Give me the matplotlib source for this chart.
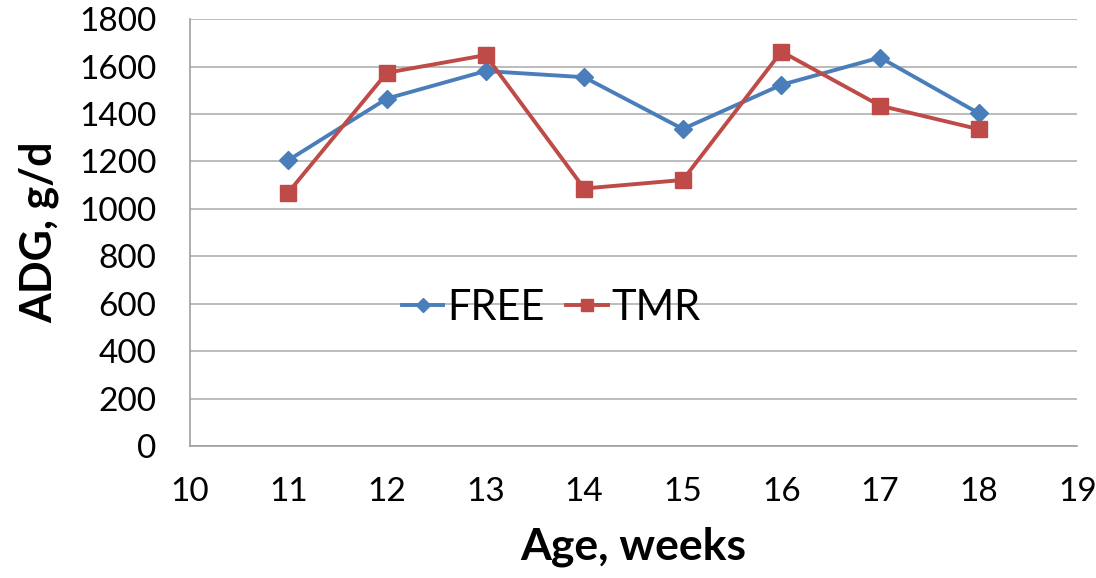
import matplotlib
matplotlib.use("Agg")
import matplotlib.pyplot as plt

weeks = [11, 12, 13, 14, 15, 16, 17, 18]
free = [1205, 1465, 1581, 1555, 1337, 1523, 1638, 1403]
tmr = [1069, 1574, 1648, 1086, 1122, 1663, 1435, 1336]

plt.rcParams['font.family'] = ['Lato', 'DejaVu Sans']

fig = plt.figure(figsize=(10.96, 5.78), dpi=100)
ax = fig.add_axes([0.173, 0.228, 0.81, 0.739])

ax.plot(weeks, free, color='#4a7ebb', lw=2.8, marker='D', ms=9, label='FREE')
ax.plot(weeks, tmr, color='#be4b48', lw=2.8, marker='s', ms=12, label='TMR')

ax.set_xlim(10, 19)
ax.set_ylim(0, 1800)
ax.set_xticks(range(10, 20))
ax.set_yticks(range(0, 1801, 200))
ax.grid(axis='y', color='#b0b0b0', lw=1.2)
ax.set_axisbelow(True)
for s in ['top', 'right']:
    ax.spines[s].set_visible(False)
for s in ['left', 'bottom']:
    ax.spines[s].set_color('#a0a0a0')
    ax.spines[s].set_linewidth(1.2)
ax.tick_params(labelsize=24, length=0)
ax.tick_params(axis='y', pad=24)
ax.tick_params(axis='x', pad=22)

ax.set_xlabel('Age, weeks', fontsize=32, fontweight='bold', labelpad=14)
ax.set_ylabel('ADG, g/d', fontsize=31, fontweight='bold', labelpad=14)

ax.legend(loc='center', bbox_to_anchor=(0.503, 0.467), bbox_transform=fig.transFigure,
          frameon=False, fontsize=30, ncol=2, handlelength=1.0, columnspacing=0.5,
          handletextpad=0.1, markerscale=0.75)

fig.savefig('out.png', dpi=100)
